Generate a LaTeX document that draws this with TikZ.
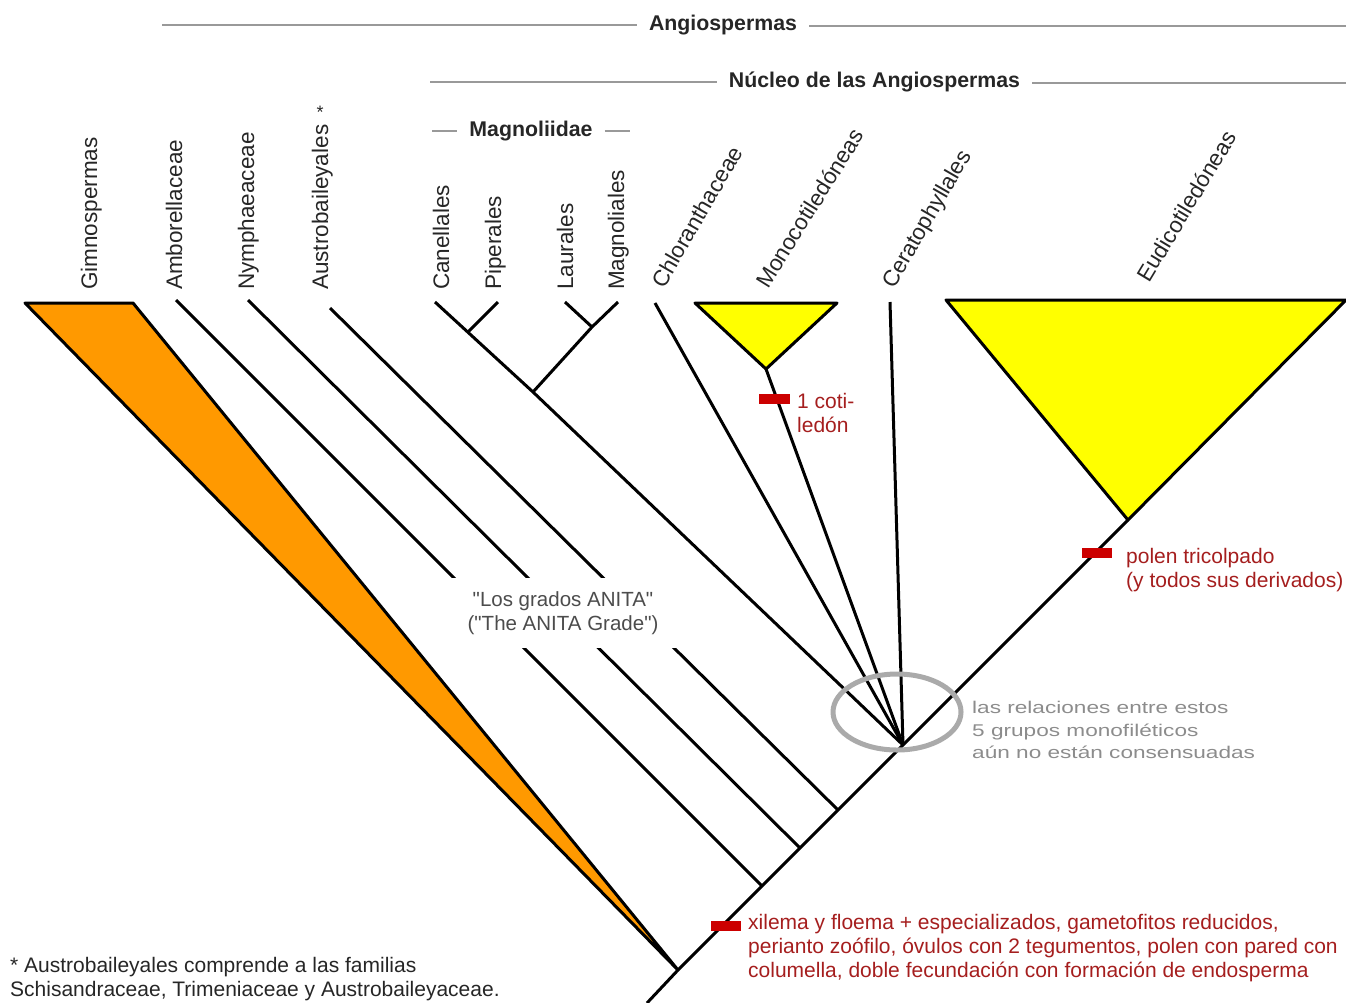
\documentclass[tikz,border=0pt]{standalone}
\usepackage{fontspec}
\setmainfont{Liberation Sans}
\newfontfamily\widefont[FakeStretch=1.33]{Liberation Sans}
\newfontfamily\anitafont[Ligatures=TeXOff]{Liberation Sans}
\usetikzlibrary{positioning}
\definecolor{naranja}{RGB}{255,153,0}
\definecolor{amarillo}{RGB}{255,255,0}
\definecolor{rojo}{RGB}{204,0,0}
\definecolor{rojotexto}{RGB}{165,30,30}
\definecolor{gris}{RGB}{170,170,170}

\begin{document}
\begin{tikzpicture}[x=1pt,y=-1pt,
    branch/.style={line width=3pt},
    clade/.style={draw,line width=3pt,line join=round},
    marker/.style={fill=rojo},
    taxon/.style={inner sep=0pt,anchor=base west,text=black!85,font=\fontsize{22.5}{24}\selectfont},
    heading/.style={inner xsep=12pt,inner ysep=0pt,text=black!85,font=\bfseries\fontsize{21.3}{24}\selectfont},
    bracket/.style={line width=1.5pt,draw=black!40},
    trait/.style={inner sep=0pt,anchor=north west,align=left,text=rojotexto,font=\fontsize{21}{24}\selectfont}]
    \useasboundingbox (0,0) rectangle (1346,1002);

    \node[heading] (angio) at (723,25.5) {Angiospermas};
    \coordinate (angL) at (162,25);
    \coordinate (angR) at (1346,26);
    \draw[bracket] (angL) -- (angL -| angio.west);
    \draw[bracket] (angio.east |- angR) -- (angR);
    \node[heading] (nucleo) at (874.5,82) {Núcleo de las Angiospermas};
    \coordinate (nucL) at (430,82);
    \coordinate (nucR) at (1346,83);
    \draw[bracket] (nucL) -- (nucL -| nucleo.west);
    \draw[bracket] (nucleo.east |- nucR) -- (nucR);
    \node[heading] (magno) at (531,131) {Magnoliidae};
    \coordinate (magL) at (432,131);
    \coordinate (magR) at (630,131);
    \draw[bracket] (magL) -- (magL -| magno.west);
    \draw[bracket] (magno.east |- magR) -- (magR);

    \node[taxon,rotate=90] (lGim) at (97,290) {Gimnospermas};
    \node[taxon,rotate=90] (lAmb) at (182,290) {Amborellaceae};
    \node[taxon,rotate=90] (lNym) at (254,290) {Nymphaeaceae};
    \node[taxon,rotate=90] (lAus) at (328,290) {Austrobaileyales};
    \node[inner sep=0pt,text=black!85,font=\fontsize{18}{18}\selectfont] (ast) at (320,112) {*};
    \node[taxon,rotate=90] (lCan) at (449,290) {Canellales};
    \node[taxon,rotate=90] (lPip) at (501,290) {Piperales};
    \node[taxon,rotate=90] (lLau) at (573,290) {Laurales};
    \node[taxon,rotate=90] (lMgl) at (624,290) {Magnoliales};
    \node[taxon,rotate=60] (lChl) at (664,290) {Chloranthaceae};
    \node[taxon,rotate=58] (lMon) at (768,290) {Monocotiledóneas};
    \node[taxon,rotate=60] (lCer) at (894,290) {Ceratophyllales};
    \node[taxon,rotate=59] (lEud) at (1149,284) {Eudicotiledóneas};

    \coordinate (base) at (647,1003);
    \coordinate (nRoot) at (678,970);
    \coordinate (nAmb) at (762,886);
    \coordinate (nNym) at (800,848);
    \coordinate (nAus) at (838,810);
    \coordinate (nCore) at (903,745);
    \coordinate (nEud) at (1128,520);
    \coordinate (nMag) at (533,392);
    \coordinate (nCP) at (468,332);
    \coordinate (nLM) at (592,327);
    \coordinate (nMon) at (766,369);
    \coordinate (gL) at (25,303);
    \coordinate (gR) at (133,303);
    \coordinate (mL) at (695,303);
    \coordinate (mR) at (837,303);
    \coordinate (eL) at (946,300);
    \coordinate (eR) at (1346,300);
    \coordinate (tAmb) at (176,300);
    \coordinate (tNym) at (248,300);
    \coordinate (tAus) at (330,308);
    \coordinate (tCan) at (435,302);
    \coordinate (tPip) at (498,302);
    \coordinate (tLau) at (565,302);
    \coordinate (tMgl) at (618,302);
    \coordinate (tChl) at (655,303);
    \coordinate (tCer) at (890,302);

    \filldraw[clade,fill=naranja] (gL) -- (gR) -- (nRoot) -- cycle;
    \filldraw[clade,fill=amarillo] (mL) -- (mR) -- (nMon) -- cycle;
    \filldraw[clade,fill=amarillo] (eL) -- (eR) -- (nEud) -- cycle;
    \draw[branch] (base) -- (nRoot) -- (nAmb) -- (nNym) -- (nAus) -- (nCore) -- (nEud);
    \draw[branch] (tAmb) -- (nAmb);
    \draw[branch] (tNym) -- (nNym);
    \draw[branch] (tAus) -- (nAus);
    \draw[branch] (tCan) -- (nMag) -- (nCore);
    \draw[branch] (tPip) -- (nCP);
    \draw[branch] (tLau) -- (nLM);
    \draw[branch] (tMgl) -- (nLM) -- (nMag);
    \draw[branch] (tChl) -- (nCore);
    \draw[branch] (nMon) -- (nCore);
    \draw[branch] (tCer) -- (nCore);

    \node[fill=white,minimum width=230pt,minimum height=70pt,align=center,text=black!70,font=\anitafont\fontsize{20.5}{24.5}\selectfont] (anita) at (563,613) {"Los grados ANITA"\\("The ANITA Grade")};
    \draw[gris,line width=5pt] (897,712) ellipse [x radius=64,y radius=38];
    \node[inner sep=0pt,anchor=north west,align=left,text=black!45,font=\widefont\fontsize{17}{22.5}\selectfont] (rel) at (972,701) {las relaciones entre estos\\5 grupos monofiléticos\\aún no están consensuadas};

    \fill[marker] (759,394) rectangle (790,404);
    \node[trait] (tMono) at (797,393) {1 coti-\\ledón};
    \fill[marker] (1082,548) rectangle (1112,558);
    \node[trait] (tTri) at (1126,548) {polen tricolpado\\(y todos sus derivados)};
    \fill[marker] (711,921) rectangle (741,931);
    \node[trait] (tAng) at (748,914) {xilema y floema + especializados, gametofitos reducidos,\\perianto zoófilo, óvulos con 2 tegumentos, polen con pared con\\columella, doble fecundación con formación de endosperma};

    \node[inner sep=0pt,anchor=north west,align=left,text=black!85,font=\fontsize{21}{24}\selectfont] (nota) at (10,957) {* Austrobaileyales comprende a las familias\\Schisandraceae, Trimeniaceae y Austrobaileyaceae.};
\end{tikzpicture}
\end{document}
